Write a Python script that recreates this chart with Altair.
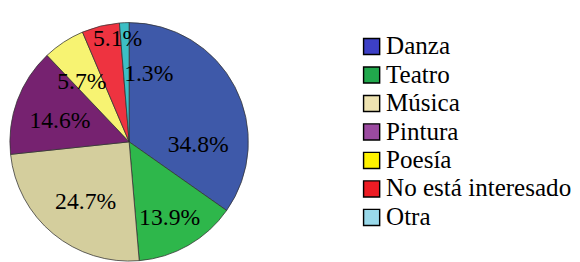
import altair as alt
import pandas as pd

categories = ["Danza", "Teatro", "Música", "Pintura", "Poesía", "No está interesado", "Otra"]
values = [34.8, 13.9, 24.7, 14.6, 5.7, 5.1, 1.3]
labels = ["34.8%", "13.9%", "24.7%", "14.6%", "5.7%", "5.1%", "1.3%"]
pie_colors = ["#3E59A9", "#2EB74B", "#D4CE9D", "#762270", "#F7F372", "#EE3340", "#3CBFC5"]
legend_colors = ["#3D40C6", "#21A84C", "#EEE3B1", "#9B4AA0", "#FFF200", "#ED1C24", "#99D9EA"]

# label nudges (dx, dy) in pixels, styling only
label_nudges = [(2, 40), (3, 11), (5, 1), (2, 5), (-6, 3), (7, -32), (24, 8)]

df = pd.DataFrame({"cat": categories, "value": values, "label": labels,
                   "order": list(range(len(categories)))})
total = sum(values)
tscale = alt.Scale(domain=[0, total], nice=False, zero=True)
FONT = "Liberation Serif"

base = alt.Chart(df)

arcs = base.mark_arc(outerRadius=126, stroke="#333333", strokeWidth=0.8).encode(
    theta=alt.Theta("value:Q", stack=True, scale=tscale),
    color=alt.Color("cat:N", scale=alt.Scale(domain=categories, range=pie_colors), legend=None),
    order=alt.Order("order:Q"),
)

legend_layer = base.mark_arc(outerRadius=126, opacity=0).encode(
    theta=alt.Theta("value:Q", stack=True, scale=tscale),
    color=alt.Color(
        "cat:N",
        scale=alt.Scale(domain=categories, range=legend_colors),
        legend=alt.Legend(
            title=None, orient="none", legendX=367, legendY=11,
            labelFont=FONT, labelFontSize=26.5, labelColor="black", labelLimit=400,
            symbolType="square", symbolSize=289, symbolStrokeColor="black",
            symbolStrokeWidth=1.5, symbolOpacity=1, rowPadding=3.1, labelOffset=2,
            padding=0,
        ),
    ),
    order=alt.Order("order:Q"),
)

text_layers = []
for i, (dx, dy) in enumerate(label_nudges):
    t = (
        base.transform_window(cum="sum(value)", sort=[alt.SortField("order")], frame=[None, 0])
        .transform_calculate(mid="datum.cum - datum.value / 2")
        .transform_filter(alt.datum.order == i)
        .mark_text(radius=80, dx=dx, dy=dy, font=FONT, fontSize=25, color="black",
                   align="center", baseline="middle")
        .encode(theta=alt.Theta("mid:Q", stack=None, scale=tscale), text="label:N")
    )
    text_layers.append(t)

chart = (
    alt.layer(arcs, legend_layer, *text_layers)
    .resolve_scale(color="independent")
    .properties(width=248, height=250, padding={"left": 0, "top": 6, "right": 0, "bottom": 0})
    .configure(font=FONT)
    .configure_view(stroke=None)
    .configure_legend(labelFont=FONT)
)

chart.save("out.html", embed_options={"renderer": "svg", "actions": False})
